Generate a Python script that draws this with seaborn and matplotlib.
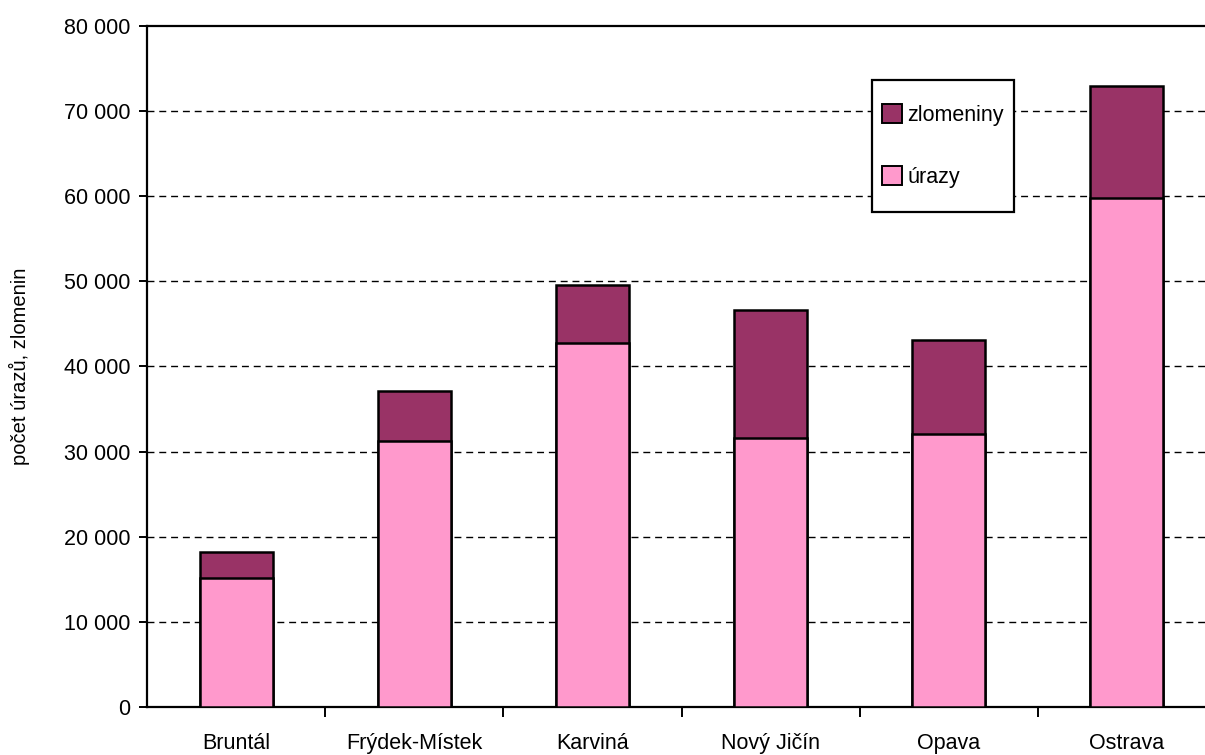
import matplotlib
matplotlib.use("Agg")
import matplotlib.pyplot as plt
import seaborn as sns
import pandas as pd
from matplotlib.patches import Patch, Rectangle
from matplotlib.ticker import FuncFormatter, FixedLocator

categories = ["Bruntál", "Frýdek-Místek", "Karviná", "Nový Jičín", "Opava", "Ostrava"]
urazy = [15150, 31250, 42750, 31600, 32100, 59800]
zlomeniny = [3050, 5900, 6850, 15000, 11000, 13200]
yticks = [0, 10000, 20000, 30000, 40000, 50000, 60000, 70000, 80000]

sns.set_theme(style="white")
plt.rcParams['font.family'] = ['Liberation Sans Narrow', 'Liberation Sans', 'DejaVu Sans']
plt.rcParams['text.color'] = 'black'
plt.rcParams['axes.labelcolor'] = 'black'
plt.rcParams['xtick.color'] = 'black'
plt.rcParams['ytick.color'] = 'black'

df = pd.DataFrame({"okres": categories, "urazy": urazy,
                   "total": [u + z for u, z in zip(urazy, zlomeniny)]})

fig = plt.figure(figsize=(12.05, 7.55), dpi=100)
ax = fig.add_axes([147/1205, 48/755, 1069/1205, 681/755])

pink = "#FF99CC"
dark = "#993366"
sns.barplot(data=df, x="okres", y="total", color=dark, width=0.41,
            edgecolor="black", linewidth=1.8, saturation=1, ax=ax, zorder=3)
sns.barplot(data=df, x="okres", y="urazy", color=pink, width=0.41,
            edgecolor="black", linewidth=1.8, saturation=1, ax=ax, zorder=3)

ax.set_ylim(0, 80000)
ax.set_xlim(-0.5, len(categories) - 0.5)
ax.set_yticks(yticks)
ax.yaxis.set_major_formatter(FuncFormatter(lambda v, p: f"{int(v):,}".replace(",", " ")))
for y in yticks[1:-1]:
    ax.axhline(y, color="black", linewidth=1, linestyle=(0, (5, 3.5)), zorder=1)

ax.spines["right"].set_visible(False)
for s in ["left", "bottom", "top"]:
    ax.spines[s].set_color("black")
    ax.spines[s].set_linewidth(1.6)

ax.tick_params(axis="y", direction="out", length=6, width=1.4, color="black",
               labelsize=15.5, pad=6, left=True, labelcolor="black")
ax.tick_params(axis="x", which="major", length=0, labelsize=15.5, pad=19, labelcolor="black")
ax.xaxis.set_minor_locator(FixedLocator([i + 0.5 for i in range(len(categories) - 1)]))
ax.tick_params(axis="x", which="minor", direction="out", length=7, width=1.4,
               color="black", bottom=True)
ax.set_xlabel("")
ax.set_ylabel("počet úrazů, zlomenin", fontsize=14.5, labelpad=24, color="black")

# legend box
x0, x1 = 0.678, 0.811
y0, y1 = 0.7269, 0.9207
box = Rectangle((x0, y0), x1 - x0, y1 - y0, transform=ax.transAxes,
                facecolor="white", edgecolor="black", linewidth=1.6, zorder=5, clip_on=False)
ax.add_patch(box)

handles = [Patch(facecolor=dark, edgecolor="black", linewidth=1.4, label="zlomeniny"),
           Patch(facecolor=pink, edgecolor="black", linewidth=1.4, label="úrazy")]
leg = ax.legend(handles=handles, loc="center", bbox_to_anchor=((x0 + x1) / 2, (y0 + y1) / 2),
                fontsize=15.5, frameon=False,
                handlelength=0.95, handleheight=0.95, handletextpad=0.25,
                labelspacing=1.88, borderpad=0, borderaxespad=0)
leg.set_zorder(6)
for t in leg.get_texts():
    t.set_color("black")

fig.savefig("out.png", dpi=100)
